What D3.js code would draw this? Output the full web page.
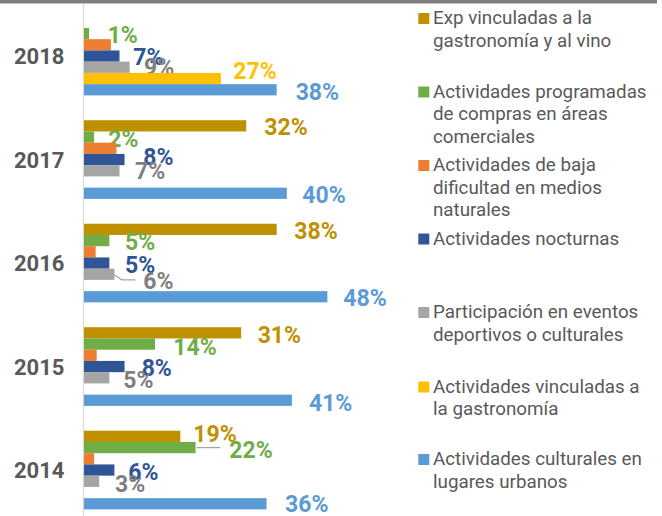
<!DOCTYPE html>
<html>
<head>
<meta charset="utf-8">
<script src="https://cdn.jsdelivr.net/npm/d3@7/dist/d3.min.js"></script>
<style>
  html, body { margin: 0; padding: 0; background: #fff; }
  svg { display: block; font-family: Roboto, "Noto Sans", sans-serif; }
</style>
</head>
<body>
<svg id="chart" width="662" height="516"></svg>
<script>
// ---------- DATA ----------
const years = ["2018", "2017", "2016", "2015", "2014"];
const seriesNames = [
  "Exp vinculadas a la gastronomía y al vino",
  "Actividades programadas de compras en áreas comerciales",
  "Actividades de baja dificultad en medios naturales",
  "Actividades nocturnas",
  "Participación en eventos deportivos o culturales",
  "Actividades vinculadas a la gastronomía",
  "Actividades culturales en lugares urbanos"
];
// values per year, in order 2018, 2017, 2016, 2015, 2014 (null = no bar)
const expGastroVino   = [null, 32, 38, 31, 19];
const comprasAreas    = [1, 2, 5, 14, 22];
const bajaDificultad  = [5.3, 6.4, 2.3, 2.5, 2.0];   // unlabelled
const nocturnas       = [7, 8, 5, 8, 6];
const eventos         = [9, 7, 6, 5, 3];
const vinculadasGastro= [27, null, null, null, null];
const culturalesUrb   = [38, 40, 48, 41, 36];
const seriesValues = [expGastroVino, comprasAreas, bajaDificultad, nocturnas, eventos, vinculadasGastro, culturalesUrb];
const showLabel = [true, true, false, true, true, true, true];
const legendLines = [
  ["Exp vinculadas a la", "gastronomía y al vino"],
  ["Actividades programadas", "de compras en áreas", "comerciales"],
  ["Actividades de baja", "dificultad en medios", "naturales"],
  ["Actividades nocturnas"],
  ["Participación en eventos", "deportivos o culturales"],
  ["Actividades vinculadas a", "la gastronomía"],
  ["Actividades culturales en", "lugares urbanos"]
];

// ---------- STYLE / LAYOUT ----------
const barColors   = ["#bf9000", "#70ad47", "#ed7d31", "#2f5597", "#a5a5a5", "#ffc000", "#5b9bd5"];
const labelColors = ["#bf9000", "#70ad47", "#ed7d31", "#2f5597", "#7f7f7f", "#ffc000", "#5b9bd5"];
// label nudges [dx from bar end, dy from bar centre], per series then per year
const labelNudge = [
  [null, [18, 1.2], [17.6, 1.7], [16.5, 1.7], [13, -3]],
  [[18.6, 0.8], [14.2, 1.7], [15.6, 1.5], [18.3, 2.3], [33.8, 2]],
  [null, null, null, null, null],
  [[13.8, 0.3], [18.7, -2.8], [15.6, 2], [17.1, 1.2], [13.9, 1.7]],
  [[14.4, 0], [15.5, 0.5], [28.9, 6.8], [14, 2.3], [15.8, 2.5]],
  [[12.4, -7.7], null, null, null, null],
  [[19, 1.6], [15.5, 2], [16, 0.8], [17.1, 2.3], [18.5, -0.4]]
];

const svg = d3.select("#chart");
const W = 662, H = 516;

// top strip
svg.append("rect").attr("x", 0).attr("y", 0).attr("width", 657).attr("height", 3.5).attr("fill", "#7f7f7f");

const x = d3.scaleLinear().domain([0, 50]).range([84, 337.5]);
const y0 = d3.scaleBand().domain(years).range([4.3, 521.8]).paddingInner(0.24).paddingOuter(0.12);
const y1 = d3.scaleBand().domain(d3.range(seriesNames.length)).range([0, y0.bandwidth()]);

// axis line
svg.append("line").attr("x1", 83.5).attr("x2", 83.5).attr("y1", 3.5).attr("y2", H)
  .attr("stroke", "#d9d9d9").attr("stroke-width", 1.2);

// year labels
svg.append("g").selectAll("text").data(years).join("text")
  .attr("x", 14).attr("y", d => y0(d) + y0.bandwidth() / 2 + 8)
  .attr("font-size", 22).attr("font-weight", "bold").attr("fill", "#595959")
  .text(d => d);

const FS = 23;
const capH = FS * 0.711;

seriesValues.forEach((vals, s) => {
  const g = svg.append("g");
  const data = years.map((yr, i) => ({ yr, i, v: vals[i] })).filter(d => d.v != null);
  g.selectAll("rect").data(data).join("rect")
    .attr("x", x(0)).attr("y", d => y0(d.yr) + y1(s))
    .attr("width", d => x(d.v) - x(0)).attr("height", y1.bandwidth())
    .attr("fill", barColors[s]);
  if (!showLabel[s]) return;
  data.forEach(d => {
    const n = labelNudge[s][d.i] || [16.5, 1.5];
    const cy = y0(d.yr) + y1(s) + y1.bandwidth() / 2 + n[1];
    const lx = x(d.v) + n[0];
    if (n[0] > 25) {
      // leader line
      const by = y0(d.yr) + y1(s) + y1.bandwidth() / 2;
      const pts = s === 4
        ? [[x(d.v) - 1, by], [x(d.v) + 7.5, by + 5.5], [lx - 8, by + 5.5]]
        : [[x(d.v) + 1, by], [lx - 9, by]];
      g.append("path").attr("d", d3.line()(pts)).attr("fill", "none")
        .attr("stroke", "#a5a5a5").attr("stroke-width", 1.3);
    }
    g.append("text").attr("x", lx).attr("y", cy + capH / 2)
      .attr("font-size", FS).attr("font-weight", "bold").attr("fill", labelColors[s])
      .text(Math.round(d.v) + "%");
  });
});

// legend
const leg = svg.append("g");
legendLines.forEach((lines, i) => {
  const top = 13 + 73.5 * i + (i === 5 ? 1 : 0);
  leg.append("rect").attr("x", 418.3).attr("y", top).attr("width", 11).attr("height", 11).attr("fill", barColors[i]);
  const t = leg.append("text").attr("font-size", 18.8).attr("fill", "#595959");
  lines.forEach((ln, j) => {
    t.append("tspan").attr("x", 433).attr("y", top + 11 + j * 22.7).text(ln);
  });
});
</script>
</body>
</html>
